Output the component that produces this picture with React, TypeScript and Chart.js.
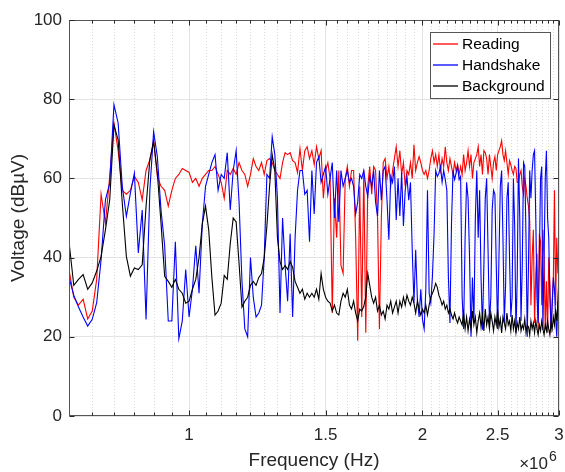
import React, { useEffect, useRef } from "react";
import { Chart, registerables } from "chart.js";

Chart.register(...registerables);

// Sweep frequencies (kHz)
const FREQ_KHZ = [
  700, 710, 720, 730, 740, 750, 760, 770, 780, 790,
  800, 810, 820, 830, 840, 850, 860, 870, 880, 890,
  900, 910, 920, 930, 940, 950, 960, 970, 980, 990,
  1000, 1010, 1020, 1030, 1040, 1050, 1060, 1070, 1080, 1090,
  1100, 1110, 1120, 1130, 1140, 1150, 1160, 1170, 1180, 1190,
  1200, 1210, 1220, 1230, 1240, 1250, 1260, 1270, 1280, 1290,
  1300, 1310, 1320, 1330, 1340, 1350, 1360, 1370, 1380, 1390,
  1400, 1410, 1420, 1430, 1440, 1450, 1460, 1470, 1480, 1490,
  1500, 1510, 1520, 1530, 1540, 1550, 1560, 1570, 1580, 1590,
  1600, 1610, 1620, 1630, 1640, 1650, 1660, 1670, 1680, 1690,
  1700, 1710, 1720, 1730, 1740, 1750, 1760, 1770, 1780, 1790,
  1800, 1810, 1820, 1830, 1840, 1850, 1860, 1870, 1880, 1890,
  1900, 1910, 1920, 1930, 1940, 1950, 1960, 1970, 1980, 1990,
  2000, 2010, 2020, 2030, 2040, 2050, 2060, 2070, 2080, 2090,
  2100, 2110, 2120, 2130, 2140, 2150, 2160, 2170, 2180, 2190,
  2200, 2210, 2220, 2230, 2240, 2250, 2260, 2270, 2280, 2290,
  2300, 2310, 2320, 2330, 2340, 2350, 2360, 2370, 2380, 2390,
  2400, 2410, 2420, 2430, 2440, 2450, 2460, 2470, 2480, 2490,
  2500, 2510, 2520, 2530, 2540, 2550, 2560, 2570, 2580, 2590,
  2600, 2610, 2620, 2630, 2640, 2650, 2660, 2670, 2680, 2690,
  2700, 2710, 2720, 2730, 2740, 2750, 2760, 2770, 2780, 2790,
  2800, 2810, 2820, 2830, 2840, 2850, 2860, 2870, 2880, 2890,
  2900, 2910, 2920, 2930, 2940, 2950, 2960, 2970, 2980, 2990,
  3000,
];

const READING = [
  37, 30, 28, 29.5, 24.5, 26.5, 34.5, 56, 48.7, 60.5,
  74, 67, 57, 56, 57, 60.5, 59, 54.6, 62, 64.7,
  69.7, 60.5, 58, 57, 53, 57, 60, 61, 62.5, 62,
  61.5, 59, 60, 58, 60, 61, 62, 62, 63, 61,
  59, 55, 62, 61, 62.5, 61, 64, 62, 61, 58,
  61, 65, 63, 62, 64, 61, 64.5, 65, 64, 62,
  61, 60, 64, 66.5, 66, 66.5, 64.5, 64, 61.5, 67.5,
  62, 67, 68, 65, 67, 63.5, 68, 65, 67, 55,
  62, 64, 60, 26, 55, 45, 62, 38, 36, 60,
  63, 58, 62, 62, 45, 19, 58, 25, 62, 21,
  58, 63, 56, 63, 62, 50, 22, 50, 64, 65,
  60, 63, 58, 62, 65, 68, 63, 67, 61, 64,
  58, 62, 61, 64, 60, 68.5, 62, 64, 65.5, 64,
  62, 61, 62, 60, 62, 65, 67, 64, 66, 63,
  66, 62, 65, 63, 68, 64, 62, 65, 63, 61,
  64, 62, 63.5, 61, 63, 61, 66, 62, 64, 67,
  63, 66, 60, 64, 65, 66, 68, 63, 66, 61,
  67, 66.5, 65, 61, 66, 63, 60, 64, 65.5, 62,
  66, 67, 68, 69.5, 66, 64.5, 67, 64, 61, 64.5,
  63.5, 62, 61, 63, 62.5, 59, 59, 61, 62, 58,
  56, 60, 58, 55, 53, 49, 28, 40, 47, 23.5,
  36, 41, 21.5, 46, 44, 28, 47, 40, 22, 34,
  21, 40, 33, 21, 29, 35, 57, 28, 45, 36,
  38,
];

const HANDSHAKE = [
  35, 30.5, 27.5, 25, 22.7, 24.4, 28.6, 39.5, 54.6, 58.8,
  78.6, 74, 58, 50.4, 56.3, 61.3, 41.2, 52, 24.4, 57,
  71.8, 65.5, 52, 43, 24, 24, 44, 19.5, 24, 37,
  25, 32, 43, 31, 48.5, 58, 61, 64, 66, 57,
  61, 60, 66.5, 52, 62, 67, 54, 34, 22, 20,
  40, 30, 25, 26, 28, 40, 61, 60, 70.5, 66,
  55, 26, 50, 38, 29, 46, 25, 45, 57, 62,
  62, 56, 57, 44, 62, 51, 64, 65.5, 59, 61,
  63, 56, 60, 64, 50, 62, 49, 62, 58, 60,
  62, 59, 60, 58, 51, 54, 61, 60, 62, 58,
  55.5, 60.5, 58, 62, 54, 50.5, 62, 54.5, 62, 63,
  54.5, 44.5, 60.5, 59, 63, 49.5, 60, 50.5, 61.5, 48,
  57, 60.5, 54.5, 59, 42, 28.6, 42, 29.4, 25, 32,
  24.4, 22, 32, 57, 31, 28.6, 35.3, 46, 62, 60.5,
  61.3, 63, 59, 62, 59.7, 57, 35.3, 23.5, 48.7, 62,
  59.7, 61.3, 63, 59.7, 60.5, 30, 22, 45, 59, 55,
  40, 20, 35, 23.5, 50, 62, 45, 57, 35, 21.8,
  38, 55, 60, 42, 23.5, 30, 52, 57, 56, 38,
  22, 40, 58, 62, 45, 23.5, 33, 55, 59, 40,
  25, 30, 60, 48, 21, 35, 65, 50, 24, 38,
  64, 63, 45, 20, 38, 62, 55, 62, 66, 67,
  50, 30, 23.5, 40, 60, 63, 21.8, 40, 60, 67,
  50, 45, 30, 22, 28, 35, 32, 25, 20, 30,
  35,
];

const BACKGROUND = [
  44, 33, 34.5, 35.7, 32, 33.6, 36.6, 40.3, 47, 54.6,
  73.5, 69.7, 53.8, 40.3, 35.3, 37.4, 37, 38.2, 52.9, 64.7,
  69.3, 61.3, 48.7, 35.3, 34, 32.5, 34.5, 32, 31, 28.5,
  29, 32, 34.5, 40, 48.5, 53, 47, 35, 25.5, 26.5,
  28.5, 35.5, 34.5, 43.5, 50, 49, 38.5, 27.5, 29, 30,
  33, 34, 33, 35, 36, 40, 48, 58, 66, 62,
  45, 39, 37, 38, 37, 39, 37.5, 34, 32.5, 31,
  32, 29.5, 31, 30, 31, 30, 32, 29.5, 36, 32,
  30, 29, 28.5, 26.5, 28, 26, 25.5, 29, 31, 30,
  32, 28, 27, 29, 26, 24, 27, 26.5, 27.7, 30,
  36, 33, 30, 28.5, 30, 26.5, 28, 25.5, 26.5, 24.5,
  28, 27, 29, 26, 27.5, 29, 26, 29, 27.5, 30,
  28, 30.5, 29, 28, 30, 28.5, 26, 29, 27, 25.5,
  27, 26, 28, 25.5, 28, 30, 31, 32, 33.5, 32.5,
  30.5, 29.5, 28, 29, 27, 28, 26, 27, 25.5, 24.5,
  26, 24.5, 23.5, 25, 24, 23, 26, 22, 25, 21.5,
  24.5, 22, 26.5, 23, 25, 21, 24, 26, 22.5, 25.5,
  21.5, 27, 23, 25, 22, 26, 24, 21.5, 25, 23,
  27, 22.5, 24.5, 21, 25, 23.5, 22, 26, 23, 24,
  21.5, 25.5, 22, 24, 21, 23.5, 22, 25, 21.5, 23,
  22, 24.5, 21, 23, 22.5, 20.5, 24, 22, 23.5, 21,
  24, 22, 20.5, 23, 21.5, 24, 22, 20.5, 23, 21.5,
  24, 22, 20.5, 23.5, 22, 25, 23, 27, 24, 28,
  26,
];

const SERIES_NAMES = ["Reading", "Handshake", "Background"];
const SERIES_COLORS = ["#ff0000", "#0000ff", "#000000"];

const X_MIN_HZ = 700000;
const X_MAX_HZ = 3000000;
const X_TICKS_MHZ = [1, 1.5, 2, 2.5, 3];
const X_TICK_LABELS = ["1", "1.5", "2", "2.5", "3"];
const X_MINOR_MHZ = [
  0.75, 0.8, 0.85, 0.9, 0.95, 1.05, 1.1, 1.15, 1.2, 1.25, 1.3, 1.35, 1.4, 1.45,
  1.55, 1.6, 1.65, 1.7, 1.75, 1.8, 1.85, 1.9, 1.95, 2.05, 2.1, 2.15, 2.2, 2.25,
  2.3, 2.35, 2.4, 2.45, 2.55, 2.6, 2.65, 2.7, 2.75, 2.8, 2.85, 2.9, 2.95,
];
const Y_TICKS = [0, 20, 40, 60, 80, 100];

const FONT = "'Liberation Sans', Arial, Helvetica, sans-serif";
const AXIS_COLOR = "#262626";
const BOX_COLOR = "#555555";
const GRID_COLOR = "#e3e3e3";
const MINOR_GRID_COLOR = "#d9d9d9";

const matlabPlugin = {
  id: "matlabAxes",
  beforeDatasetsDraw(chart: any) {
    const { ctx, chartArea: a, scales } = chart;
    const x = scales.x;
    ctx.save();
    ctx.strokeStyle = MINOR_GRID_COLOR;
    ctx.lineWidth = 1;
    ctx.setLineDash([1, 2]);
    for (const m of X_MINOR_MHZ) {
      const px = Math.round(x.getPixelForValue(m * 1e6)) + 0.5;
      ctx.beginPath();
      ctx.moveTo(px, a.top);
      ctx.lineTo(px, a.bottom);
      ctx.stroke();
    }
    ctx.restore();
  },
  afterDatasetsDraw(chart: any) {
    const { ctx, chartArea: a, scales } = chart;
    const x = scales.x;
    const y = scales.y;
    const L = Math.round(a.left) + 0.5;
    const R = Math.round(a.right) - 0.5;
    const T = Math.round(a.top) + 0.5;
    const B = Math.round(a.bottom) - 0.5;
    ctx.save();
    ctx.setLineDash([]);
    ctx.lineWidth = 1;
    ctx.strokeStyle = BOX_COLOR;
    ctx.strokeRect(L, T, R - L, B - T);
    ctx.strokeStyle = AXIS_COLOR;
    ctx.beginPath();
    for (const m of X_MINOR_MHZ) {
      const px = Math.round(x.getPixelForValue(m * 1e6)) + 0.5;
      ctx.moveTo(px, B);
      ctx.lineTo(px, B - 3);
      ctx.moveTo(px, T);
      ctx.lineTo(px, T + 3);
    }
    for (const m of X_TICKS_MHZ) {
      const px = Math.round(x.getPixelForValue(m * 1e6)) + 0.5;
      ctx.moveTo(px, B);
      ctx.lineTo(px, B - 5);
      ctx.moveTo(px, T);
      ctx.lineTo(px, T + 5);
    }
    for (const v of Y_TICKS) {
      const py = Math.round(y.getPixelForValue(v)) + 0.5;
      ctx.moveTo(L, py);
      ctx.lineTo(L + 5, py);
      ctx.moveTo(R, py);
      ctx.lineTo(R - 5, py);
    }
    ctx.stroke();
    ctx.restore();
  },
  afterDraw(chart: any) {
    const { ctx, chartArea: a } = chart;
    ctx.save();
    ctx.setLineDash([]);
    // legend
    const bw = 120;
    const bh = 66;
    const bx = Math.round(a.right) - 9 - bw;
    const by = Math.round(a.top) + 12;
    ctx.fillStyle = "#ffffff";
    ctx.fillRect(bx, by, bw, bh);
    ctx.lineWidth = 1;
    ctx.strokeStyle = BOX_COLOR;
    ctx.strokeRect(bx + 0.5, by + 0.5, bw, bh);
    ctx.font = `15.5px ${FONT}`;
    ctx.textBaseline = "middle";
    ctx.textAlign = "left";
    for (let i = 0; i < SERIES_NAMES.length; i++) {
      const ry = by + 12 + i * 21;
      ctx.strokeStyle = SERIES_COLORS[i];
      ctx.lineWidth = 1.3;
      ctx.beginPath();
      ctx.moveTo(bx + 3, ry);
      ctx.lineTo(bx + 28, ry);
      ctx.stroke();
      ctx.fillStyle = "#000000";
      ctx.fillText(SERIES_NAMES[i], bx + 32, ry + 1);
    }
    // exponent label
    ctx.fillStyle = AXIS_COLOR;
    ctx.textBaseline = "alphabetic";
    ctx.textAlign = "right";
    ctx.font = `17px ${FONT}`;
    ctx.fillText("\u00d710", Math.round(a.right) - 11, 469);
    ctx.textAlign = "left";
    ctx.font = `14px ${FONT}`;
    ctx.fillText("6", Math.round(a.right) - 10, 461);
    ctx.restore();
  },
};

export default function App() {
  const canvasRef = useRef<HTMLCanvasElement | null>(null);

  useEffect(() => {
    const canvas = canvasRef.current;
    if (!canvas) return;
    const series = [READING, HANDSHAKE, BACKGROUND];
    const chart = new Chart(canvas, {
      type: "line",
      data: {
        datasets: series.map((vals, i) => ({
          label: SERIES_NAMES[i],
          data: FREQ_KHZ.map((f, j) => ({ x: f * 1000, y: vals[j] })),
          borderColor: SERIES_COLORS[i],
          backgroundColor: SERIES_COLORS[i],
          borderWidth: 1.1,
          pointRadius: 0,
          tension: 0,
          fill: false,
          order: 3 - i,
        })),
      },
      options: {
        animation: false,
        responsive: false,
        devicePixelRatio: 1,
        layout: { padding: { left: 0, right: 6, top: 20, bottom: 0 } },
        plugins: {
          legend: { display: false },
          tooltip: { enabled: false },
        },
        scales: {
          x: {
            type: "logarithmic",
            min: X_MIN_HZ,
            max: X_MAX_HZ,
            bounds: "data",
            afterBuildTicks: (scale: any) => {
              scale.ticks = X_TICKS_MHZ.map((m) => ({ value: m * 1e6 }));
            },
            afterFit: (scale: any) => {
              scale.height = 56;
              scale.paddingLeft = 0;
              scale.paddingRight = 0;
            },
            grid: { color: GRID_COLOR, lineWidth: 1, drawTicks: false },
            border: { display: false },
            ticks: {
              autoSkip: false,
              maxRotation: 0,
              padding: 9,
              color: AXIS_COLOR,
              font: { family: FONT, size: 17 },
              callback: (value: any) => {
                const idx = X_TICKS_MHZ.findIndex((m) => Math.abs(m * 1e6 - Number(value)) < 1);
                return idx >= 0 ? X_TICK_LABELS[idx] : "";
              },
            },
            title: {
              display: true,
              text: "Frequency (Hz)",
              color: AXIS_COLOR,
              font: { family: FONT, size: 19 },
              padding: { top: 0, bottom: 0 },
            },
          },
          y: {
            type: "linear",
            min: 0,
            max: 100,
            afterBuildTicks: (scale: any) => {
              scale.ticks = Y_TICKS.map((v) => ({ value: v }));
            },
            afterFit: (scale: any) => {
              scale.width = 69;
              scale.paddingTop = 0;
              scale.paddingBottom = 0;
            },
            grid: { color: GRID_COLOR, lineWidth: 1, drawTicks: false },
            border: { display: false },
            ticks: {
              padding: 7,
              color: AXIS_COLOR,
              font: { family: FONT, size: 17 },
              callback: (value: any) => String(value),
            },
            title: {
              display: true,
              text: "Voltage (dB\u00b5V)",
              color: AXIS_COLOR,
              font: { family: FONT, size: 19 },
              padding: { top: 7, bottom: 0 },
            },
          },
        },
      },
      plugins: [matlabPlugin],
    });
    return () => chart.destroy();
  }, []);

  return (
    <div style={{ position: "fixed", left: 0, top: 0, width: 565, height: 472, background: "#ffffff" }}>
      <canvas ref={canvasRef} width={565} height={472} style={{ display: "block" }} />
    </div>
  );
}
